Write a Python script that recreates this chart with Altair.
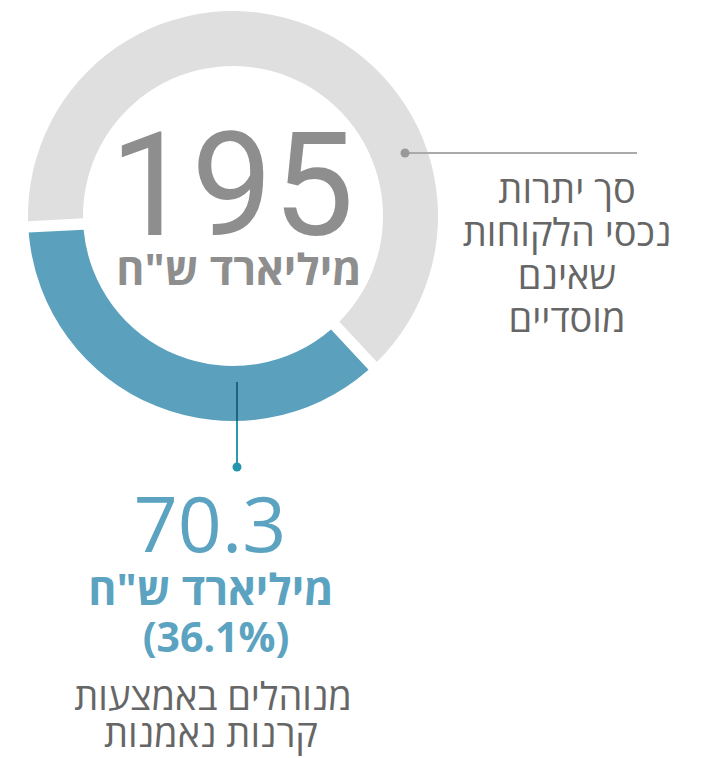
import math
import altair as alt
import pandas as pd

# ---- data ----
segments = ["קרנות נאמנות", "אחר"]
seg_values = [36.1, 63.9]
seg_order = [0, 1]
seg_colors = ["#5ba1bd", "#dfdfdf"]

total_value = "195"
total_unit = "מיליארד ש\"ח"
right_label = ["סך יתרות", "נכסי הלקוחות", "שאינם", "מוסדיים"]
part_value = "70.3"
part_unit = "מיליארד ש\"ח"
part_pct = "(36.1%)"
part_label = ["מנוהלים באמצעות", "קרנות נאמנות"]

# ---- layout ----
W, H = 687, 750
CX, CY = 225, 208
R_OUT, R_IN = 205, 150
start = math.radians(137.0)

df = pd.DataFrame({"seg": segments, "value": seg_values, "ord": seg_order})

donut = alt.Chart(df).mark_arc(
    outerRadius=R_OUT, innerRadius=R_IN, padAngle=0.045
).encode(
    theta=alt.Theta("value:Q", stack=True,
                    scale=alt.Scale(range=[start, start + 2 * math.pi])),
    order=alt.Order("ord:Q"),
    color=alt.Color("seg:N", scale=alt.Scale(domain=segments, range=seg_colors), legend=None),
    x=alt.value(CX), y=alt.value(CY),
)

one = pd.DataFrame({"a": [0]})
base = alt.Chart(one)

rule_dark = base.mark_rule(color="#1e6485", strokeWidth=2).encode(
    x=alt.value(229), y=alt.value(374), y2=alt.value(413))
rule_light = base.mark_rule(color="#2b9ab0", strokeWidth=2).encode(
    x=alt.value(229), y=alt.value(413), y2=alt.value(459))
dot_blue = base.mark_point(filled=True, color="#2596ad", size=80, opacity=1).encode(
    x=alt.value(229), y=alt.value(459))

rule_gray = base.mark_rule(color="#aaaaaa", strokeWidth=2).encode(
    x=alt.value(397), x2=alt.value(629), y=alt.value(145))
dot_gray = base.mark_point(filled=True, color="#999999", size=80, opacity=1).encode(
    x=alt.value(397), y=alt.value(145))

HEB = "Open Sans"

def txt(text, x, y, size, color, weight="normal", font=HEB):
    return alt.Chart(pd.DataFrame({"t": [text]})).mark_text(
        fontSize=size, font=font, fontWeight=weight, color=color,
        align="center", baseline="alphabetic"
    ).encode(text="t:N", x=alt.value(x), y=alt.value(y))

layers = [donut, rule_dark, rule_light, dot_blue, rule_gray, dot_gray,
          txt(total_value, 224, 227, 145, "#8e8e8e", font="Roboto, sans-serif"),
          txt(total_unit, 231, 277, 43, "#8e8e8e", weight="bold")]

for i, line in enumerate(right_label):
    layers.append(txt(line, 559, 195 + 43 * i, 38, "#666666"))

layers += [
    txt(part_value, 202, 544, 77, "#5ba3c0", weight=500),
    txt(part_unit, 203, 597, 43, "#5ba3c0", weight="bold"),
    txt(part_pct, 208, 644, 41, "#5ba3c0", weight="bold"),
    txt(part_label[0], 205, 702, 38, "#666666"),
    txt(part_label[1], 203, 739, 38, "#666666"),
]

chart = alt.layer(*layers).properties(
    width=W, height=H, padding=0, autosize="none"
).configure_view(stroke=None)

chart.save("out.html", embed_options={"renderer": "svg", "actions": False})
